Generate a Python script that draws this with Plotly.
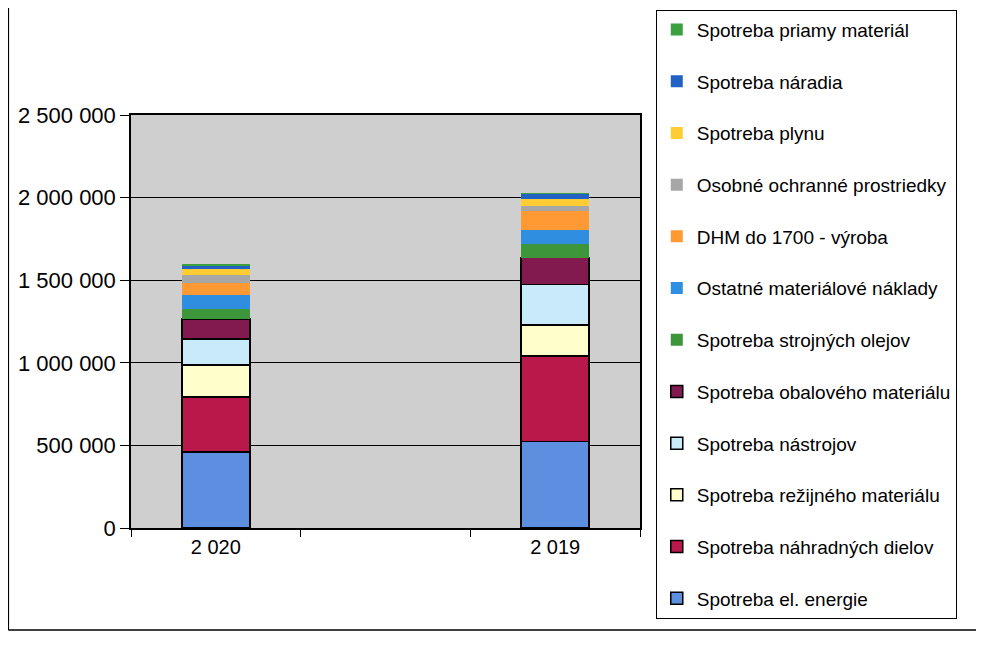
import plotly.graph_objects as go

categories = ["2 020", " ", "2 019"]

series_names = [
    "Spotreba el. energie",
    "Spotreba náhradných dielov",
    "Spotreba režijného materiálu",
    "Spotreba nástrojov",
    "Spotreba obalového materiálu",
    "Spotreba strojných olejov",
    "Ostatné materiálové náklady",
    "DHM do 1700 - výroba",
    "Osobné ochranné prostriedky",
    "Spotreba plynu",
    "Spotreba náradia",
    "Spotreba priamy materiál",
]

values_2020 = [460000, 333000, 193000, 157000, 121000, 60000, 85000, 72000, 48000, 36000, 24000, 4000]
values_2019 = [525000, 516000, 187000, 247000, 162000, 85000, 84000, 115000, 31000, 37000, 34000, 3000]

colors = ["#5C8FDF", "#B8194A", "#FFFFCC", "#C8EAF9", "#821A50", "#3E963A",
          "#2F8EDF", "#FF9933", "#A7A7A7", "#FFCC33", "#2262C4", "#3AA040"]
outlined = [True, True, True, True, True, False, False, False, False, False, False, False]

fig = go.Figure()
n = len(series_names)
for i, name in enumerate(series_names):
    fig.add_trace(go.Bar(
        name=name,
        x=categories,
        y=[values_2020[i], None, values_2019[i]],
        marker=dict(color=colors[i],
                    line=dict(color="black", width=1.5 if outlined[i] else 0)),
        legendgroup=name,
        legendrank=100 + n - i,
    ))

fig.update_layout(
    width=984, height=650,
    barmode="stack",
    bargap=0.6,
    separators=". ",
    paper_bgcolor="white",
    plot_bgcolor="#CFCFCF",
    margin=dict(l=123, r=352, t=107, b=130, autoexpand=False),
    font=dict(family="Liberation Sans, Arial, sans-serif", color="black"),
    showlegend=True,
    legend=dict(
        x=1.031, y=1.255, xanchor="left", yanchor="top",
        traceorder="grouped",
        bgcolor="white", bordercolor="black", borderwidth=1,
        font=dict(size=19),
        tracegroupgap=24,
        itemwidth=30,
        maxheight=640,
    ),
    xaxis=dict(
        type="category",
        categoryorder="array", categoryarray=categories,
        tickson="boundaries", ticks="outside", ticklen=7, tickcolor="black",
        showline=True, linecolor="black", linewidth=1.5, mirror=True,
        tickfont=dict(size=20),
        showgrid=False,
    ),
    yaxis=dict(
        range=[0, 2500000],
        dtick=500000,
        tickformat=",d",
        ticks="outside", ticklen=9, tickcolor="black",
        showline=True, linecolor="black", linewidth=1.5, mirror=True,
        showgrid=True, gridcolor="black", gridwidth=1,
        tickfont=dict(size=22),
        zeroline=False,
    ),
    shapes=[
        dict(type="line", xref="paper", yref="paper", x0=-0.241, x1=-0.241, y0=-0.247, y1=1.3,
             line=dict(color="black", width=1.5)),
        dict(type="line", xref="paper", yref="paper", x0=-0.241, x1=1.75, y0=-0.247, y1=-0.247,
             line=dict(color="black", width=1.5)),
    ],
)

fig.write_html("out.html")
